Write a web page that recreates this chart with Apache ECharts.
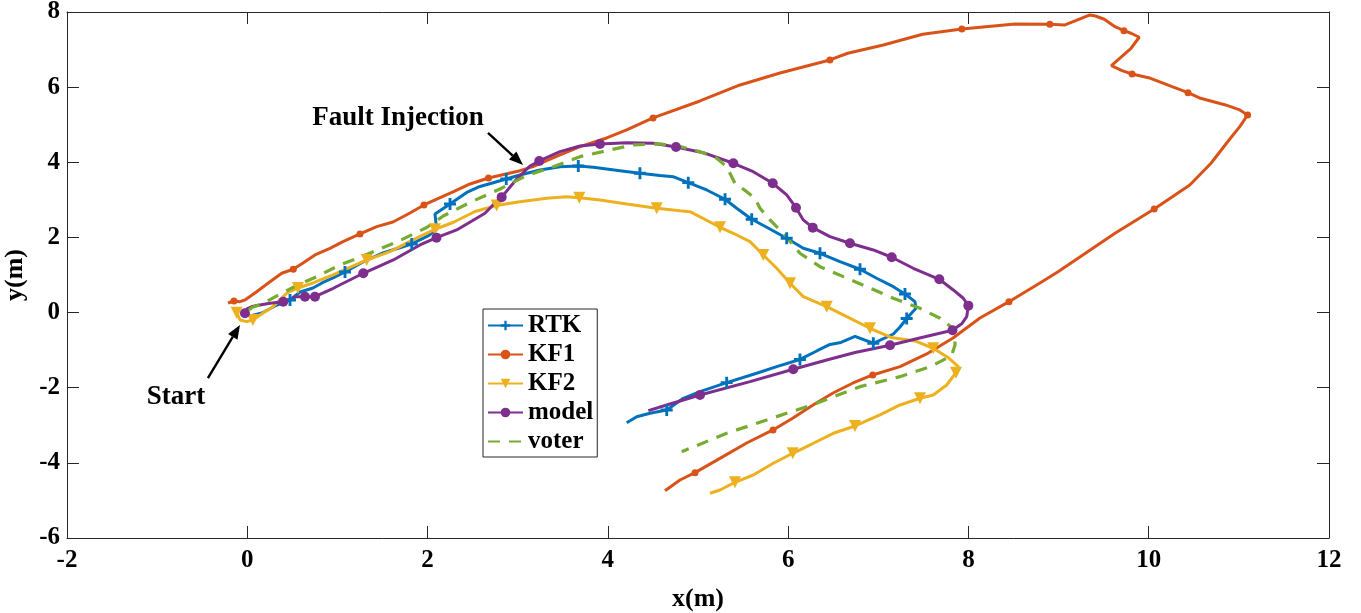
<!DOCTYPE html>
<html>
<head>
<meta charset="UTF-8">
<title>Trajectories</title>
<script src="https://cdn.jsdelivr.net/npm/echarts@6/dist/echarts.min.js"></script>
<style>
    html, body { margin: 0; padding: 0; background: #fff; }
    #chart { width: 1361px; height: 613px; }
</style>
</head>
<body>
<div id="chart"></div>
<script>
// trajectories (metres); *Marks = indices carrying a marker
const rtkX = [0.030,0.163,0.307,0.474,0.585,0.729,0.829,0.951,1.084,1.284,1.505,1.824,2.005,2.101,2.082,2.249,2.434,2.582,2.873,3.025,3.247,3.469,3.672,3.838,4.134,4.356,4.578,4.723,4.892,5.097,5.300,5.429,5.596,5.762,5.984,6.168,6.353,6.575,6.797,6.982,7.167,7.296,7.407,7.418,7.315,7.241,7.167,6.945,6.742,6.586,6.464,6.317,6.131,5.873,5.651,5.318,5.022,4.837,4.653,4.467,4.320,4.209];
const rtkY = [-0.090,-0.011,0.176,0.335,0.548,0.655,0.788,0.921,1.081,1.347,1.586,1.826,2.039,2.217,2.624,2.891,3.197,3.356,3.556,3.662,3.795,3.883,3.902,3.867,3.777,3.708,3.649,3.617,3.458,3.263,3.016,2.776,2.483,2.270,1.978,1.711,1.578,1.355,1.153,0.913,0.689,0.495,0.290,0.114,-0.157,-0.383,-0.570,-0.817,-0.636,-0.796,-0.849,-1.022,-1.248,-1.440,-1.616,-1.866,-2.105,-2.281,-2.593,-2.680,-2.771,-2.931];
const rtkMarks = [3,8,11,15,18,22,25,28,30,32,34,36,38,41,44,47,52,55,58];

const kf1X = [-0.214,-0.148,-0.081,-0.026,0.104,0.252,0.382,0.510,0.618,0.751,0.917,1.062,1.250,1.436,1.616,1.805,1.960,2.282,2.471,2.676,3.025,3.170,3.391,3.691,3.987,4.209,4.501,5.022,5.466,5.910,6.463,6.661,7.056,7.492,7.927,8.517,8.903,9.071,9.349,9.409,9.507,9.626,9.725,9.804,9.895,9.804,9.586,9.704,9.815,10.021,10.259,10.436,10.575,10.852,11.010,11.097,11.010,10.891,10.691,10.456,10.061,9.626,8.994,8.816,8.450,8.128,7.829,7.537,7.241,6.938,6.720,6.498,6.276,6.054,5.832,5.540,5.277,4.967,4.800,4.634];
const kf1Y = [0.256,0.309,0.290,0.335,0.556,0.822,1.046,1.153,1.320,1.533,1.711,1.887,2.092,2.286,2.411,2.651,2.864,3.210,3.423,3.583,3.777,3.883,4.115,4.416,4.647,4.860,5.180,5.632,6.058,6.377,6.724,6.902,7.123,7.408,7.549,7.682,7.674,7.655,7.921,7.894,7.807,7.610,7.503,7.434,7.328,7.035,6.572,6.439,6.351,6.236,6.013,5.853,5.704,5.526,5.393,5.259,4.948,4.594,3.974,3.396,2.758,2.111,1.089,0.822,0.290,-0.144,-0.676,-1.102,-1.440,-1.661,-1.874,-2.140,-2.459,-2.805,-3.124,-3.471,-3.835,-4.261,-4.456,-4.741];
const kf1Marks = [1,7,12,16,19,26,30,34,36,42,48,51,55,60,64,69,74,77];

const kf2X = [-0.118,-0.081,-0.007,0.063,0.174,0.285,0.437,0.562,0.729,0.951,1.325,1.583,1.838,2.082,2.282,2.526,2.767,3.003,3.321,3.543,3.683,3.913,4.209,4.542,4.800,4.911,5.244,5.429,5.577,5.724,5.873,6.021,6.168,6.428,6.650,6.908,7.141,7.407,7.610,7.773,7.888,7.862,7.759,7.610,7.463,7.241,7.019,6.742,6.501,6.279,6.051,5.835,5.613,5.410,5.244,5.133];
const kf2Y = [-0.003,-0.197,-0.242,-0.197,-0.011,0.157,0.514,0.655,0.788,1.001,1.400,1.621,1.933,2.217,2.398,2.691,2.851,2.944,3.042,3.085,3.058,2.997,2.891,2.776,2.712,2.686,2.270,2.065,1.887,1.533,1.179,0.780,0.423,0.157,-0.109,-0.418,-0.663,-0.756,-0.950,-1.195,-1.440,-1.600,-1.927,-2.193,-2.281,-2.459,-2.725,-3.018,-3.213,-3.479,-3.745,-4.011,-4.323,-4.517,-4.722,-4.810];
const kf2Marks = [0,3,7,10,13,16,20,23,26,29,31,33,35,38,41,44,47,50,53];

const modelX = [-0.026,-0.003,0.052,0.108,0.252,0.399,0.548,0.640,0.751,0.954,1.287,1.620,1.916,2.099,2.323,2.637,2.748,2.822,2.989,3.136,3.239,3.469,3.691,3.913,4.209,4.504,4.756,5.059,5.392,5.613,5.829,5.984,6.087,6.168,6.273,6.464,6.686,6.945,7.149,7.388,7.677,7.832,7.943,7.999,7.981,7.929,7.823,7.482,7.130,6.742,6.428,6.057,5.577,5.022,4.653,4.449];
const modelY = [-0.019,0.096,0.162,0.189,0.248,0.290,0.423,0.423,0.423,0.647,1.046,1.400,1.799,1.994,2.199,2.643,2.917,3.072,3.556,3.902,4.035,4.283,4.434,4.488,4.522,4.506,4.408,4.256,3.974,3.750,3.442,3.130,2.792,2.465,2.260,2.020,1.845,1.666,1.472,1.179,0.886,0.602,0.381,0.184,-0.109,-0.290,-0.471,-0.663,-0.870,-1.062,-1.262,-1.509,-1.839,-2.193,-2.459,-2.611];
const modelMarks = [0,5,7,8,10,13,17,20,23,26,28,30,32,34,36,38,40,43,46,48,51,53];

const voterX = [0.019,0.052,0.178,0.344,0.562,0.770,1.028,1.325,1.694,1.990,2.174,2.471,2.803,3.100,3.395,3.691,3.987,4.282,4.578,4.800,5.022,5.207,5.318,5.410,5.540,5.632,5.688,5.799,5.946,6.131,6.354,6.612,6.872,7.167,7.463,7.685,7.851,7.851,7.815,7.759,7.574,7.241,6.797,6.317,5.762,5.318,4.819];
const voterY = [0.069,0.136,0.248,0.468,0.735,0.956,1.267,1.546,1.919,2.265,2.571,2.931,3.290,3.649,3.883,4.150,4.309,4.461,4.488,4.416,4.283,4.107,3.883,3.442,3.218,3.042,2.776,2.465,2.111,1.578,1.222,0.956,0.689,0.381,0.114,-0.152,-0.463,-0.862,-1.129,-1.216,-1.440,-1.706,-1.972,-2.414,-2.859,-3.213,-3.702];

// annotations: [text x, text y], arrow [from, to]
const faultText = [1.672, 5.18];
const faultArrow = [[2.670, 4.780], [3.059, 3.929]];
const startText = [-0.79, -2.25];
const startArrow = [[-0.437, -1.746], [-0.081, -0.330]];

const FONT = '"Liberation Serif", "Times New Roman", serif';
const PLUS = 'path://M3.8,0H6.2V3.8H10V6.2H6.2V10H3.8V6.2H0V3.8H3.8Z';
const TRI_DOWN = 'path://M0,0H10L5,8.7Z';

function buildData(xs, ys, marks) {
    return xs.map((x, i) => marks && marks.includes(i)
        ? [x, ys[i]]
        : { value: [x, ys[i]], symbol: 'none' });
}

function lineSeries(name, color, data, symbol, size, dashed) {
    return {
        name: name,
        type: 'line',
        data: data,
        symbol: symbol,
        symbolSize: size,
        showAllSymbol: true,
        lineStyle: { color: color, width: dashed ? 3.2 : 3, type: dashed ? [12, 9] : 'solid' },
        itemStyle: { color: color, borderWidth: 0 },
        emphasis: { disabled: true },
        clip: true
    };
}

const chart = echarts.init(document.getElementById('chart'));

const axisCommon = {
    type: 'value',
    axisLine: { show: true, onZero: false, lineStyle: { color: '#262626', width: 1 } },
    axisTick: { show: true, inside: true, length: 12, lineStyle: { color: '#262626' } },
    splitLine: { show: false }
};

const option = {
    animation: false,
    backgroundColor: '#fff',
    grid: { left: 67, right: 32, top: 12, bottom: 75, containLabel: false, outerBoundsMode: 'none' },
    xAxis: [
        Object.assign({}, axisCommon, {
            min: -2, max: 12, interval: 2, position: 'bottom',
            name: 'x(m)', nameLocation: 'middle', nameGap: 48,
            nameTextStyle: { fontFamily: FONT, fontWeight: 'bold', fontSize: 26, color: '#000' },
            axisLabel: { fontFamily: FONT, fontWeight: 'bold', fontSize: 25, color: '#000', margin: 10 }
        }),
        Object.assign({}, axisCommon, {
            min: -2, max: 12, interval: 2, position: 'top', axisLabel: { show: false }
        })
    ],
    yAxis: [
        Object.assign({}, axisCommon, {
            min: -6, max: 8, interval: 2, position: 'left',
            name: 'y(m)', nameLocation: 'middle', nameGap: 36,
            nameTextStyle: { fontFamily: FONT, fontWeight: 'bold', fontSize: 26, color: '#000' },
            axisLabel: { fontFamily: FONT, fontWeight: 'bold', fontSize: 25, color: '#000', margin: 7 }
        }),
        Object.assign({}, axisCommon, {
            min: -6, max: 8, interval: 2, position: 'right', axisLabel: { show: false }
        })
    ],
    legend: {
        orient: 'vertical',
        left: 483, top: 309,
        padding: [4, 4, 3, 4],
        itemGap: 4,
        itemWidth: 35,
        itemHeight: 12,
        backgroundColor: '#fff',
        borderColor: '#262626',
        borderWidth: 1,
        borderRadius: 0,
        textStyle: { fontFamily: FONT, fontWeight: 'bold', fontSize: 25, lineHeight: 25, color: '#000' },
        data: ['RTK', 'KF1', 'KF2', 'model', { name: 'voter', itemStyle: { opacity: 0 } }]
    },
    series: [
        lineSeries('RTK', '#0072BD', buildData(rtkX, rtkY, rtkMarks), PLUS, 12),
        lineSeries('KF1', '#D95319', buildData(kf1X, kf1Y, kf1Marks), 'circle', 7),
        lineSeries('KF2', '#EDB120', buildData(kf2X, kf2Y, kf2Marks), TRI_DOWN, 12),
        lineSeries('model', '#7E2F8E', buildData(modelX, modelY, modelMarks), 'circle', 10),
        lineSeries('voter', '#77AC30', buildData(voterX, voterY, []), 'none', 0, true)
    ]
};

chart.setOption(option);

// annotation text and arrows placed from data coordinates
function px(p) { return chart.convertToPixel({ seriesIndex: 0 }, p); }

function arrow(from, to) {
    const a = px(from), b = px(to);
    const dx = b[0] - a[0], dy = b[1] - a[1];
    const len = Math.sqrt(dx * dx + dy * dy);
    const ux = dx / len, uy = dy / len;
    const head = 14, half = 5.5;
    const bx = b[0] - ux * head, by = b[1] - uy * head;
    return [
        { type: 'line', shape: { x1: a[0], y1: a[1], x2: bx, y2: by }, style: { stroke: '#000', lineWidth: 2.4 }, z: 100 },
        { type: 'polygon', shape: { points: [[b[0], b[1]], [bx - uy * half, by + ux * half], [bx + uy * half, by - ux * half]] }, style: { fill: '#000' }, z: 100 }
    ];
}

function label(text, at) {
    const p = px(at);
    return {
        type: 'text', x: p[0], y: p[1], z: 100,
        style: { text: text, fontFamily: FONT, fontWeight: 'bold', fontSize: 27, fill: '#000', align: 'center', verticalAlign: 'middle' }
    };
}

chart.setOption({
    graphic: [].concat(
        arrow(faultArrow[0], faultArrow[1]),
        arrow(startArrow[0], startArrow[1]),
        [label('Fault Injection', faultText), label('Start', startText)]
    )
});
</script>
</body>
</html>
